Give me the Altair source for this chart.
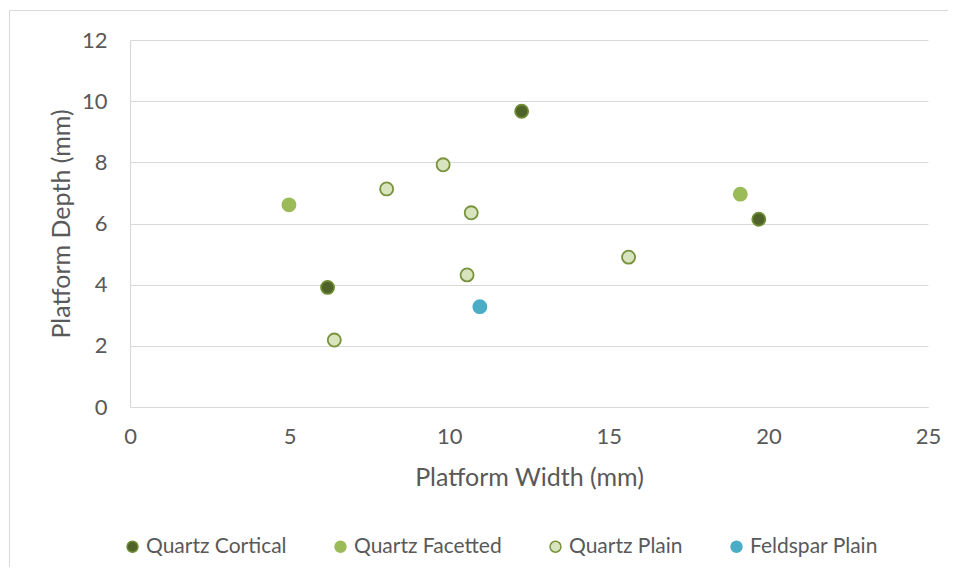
import altair as alt
import pandas as pd

series = ["Quartz Cortical", "Quartz Cortical", "Quartz Cortical",
          "Quartz Facetted", "Quartz Facetted",
          "Quartz Plain", "Quartz Plain", "Quartz Plain", "Quartz Plain", "Quartz Plain", "Quartz Plain",
          "Feldspar Plain"]
width_mm = [6.19, 12.27, 19.70,
            4.98, 19.12,
            6.40, 8.04, 9.81, 10.69, 10.56, 15.62,
            10.96]
depth_mm = [3.91, 9.67, 6.14,
            6.61, 6.96,
            2.19, 7.13, 7.92, 6.35, 4.32, 4.90,
            3.28]

order = ["Quartz Cortical", "Quartz Facetted", "Quartz Plain", "Feldspar Plain"]
fills = ["#4F6228", "#9BBB59", "#D7E4BD", "#4BACC6"]
strokes = ["#6E8B35", "#9BBB59", "#77933C", "#4BACC6"]

df = pd.DataFrame({"series": series, "w": width_mm, "d": depth_mm})

FONT = "Lato"
GREY = "#595959"

legend = alt.Legend(title=None, orient="none", direction="horizontal",
                    legendX=-8, legendY=496, symbolType="circle", symbolSize=120,
                    symbolStrokeWidth=1.5, labelFontSize=21, labelColor=GREY,
                    labelFont=FONT, columnPadding=43, labelOffset=3)

points = alt.Chart(df).mark_point(filled=True, size=170, strokeWidth=1.8, opacity=1).encode(
    x=alt.X("w:Q", title="Platform Width (mm)",
            scale=alt.Scale(domain=[0, 25], nice=False),
            axis=alt.Axis(values=[0, 5, 10, 15, 20, 25], grid=False, ticks=False,
                          labelFlush=False,
                          domainColor="#D9D9D9", labelPadding=19, titlePadding=18)),
    y=alt.Y("d:Q", title="Platform Depth (mm)",
            scale=alt.Scale(domain=[0, 12], nice=False),
            axis=alt.Axis(values=[0, 2, 4, 6, 8, 10, 12], grid=True, ticks=False,
                          gridColor="#D9D9D9", domainColor="#D9D9D9",
                          labelPadding=23, titlePadding=7)),
    fill=alt.Fill("series:N", scale=alt.Scale(domain=order, range=fills), legend=legend),
    stroke=alt.Stroke("series:N", scale=alt.Scale(domain=order, range=strokes), legend=legend),
)

border = alt.Chart(pd.DataFrame({"k": [0]})).mark_rect(
    fill=None, stroke="#D9D9D9", strokeWidth=1
).encode(x=alt.value(-120.5), x2=alt.value(900), y=alt.value(-29.5), y2=alt.value(600))

chart = alt.layer(border, points).properties(
    width=798, height=367,
    padding={"left": 122, "top": 32, "right": 20, "bottom": 160},
    autosize=alt.AutoSizeParams(type="none"),
).configure_view(stroke=None).configure_axis(
    labelFont=FONT, titleFont=FONT, labelFontSize=22, titleFontSize=25,
    labelColor=GREY, titleColor=GREY, titleFontWeight="normal", domainWidth=1.2,
)

chart.save("out.html", embed_options={"renderer": "svg", "actions": False})
